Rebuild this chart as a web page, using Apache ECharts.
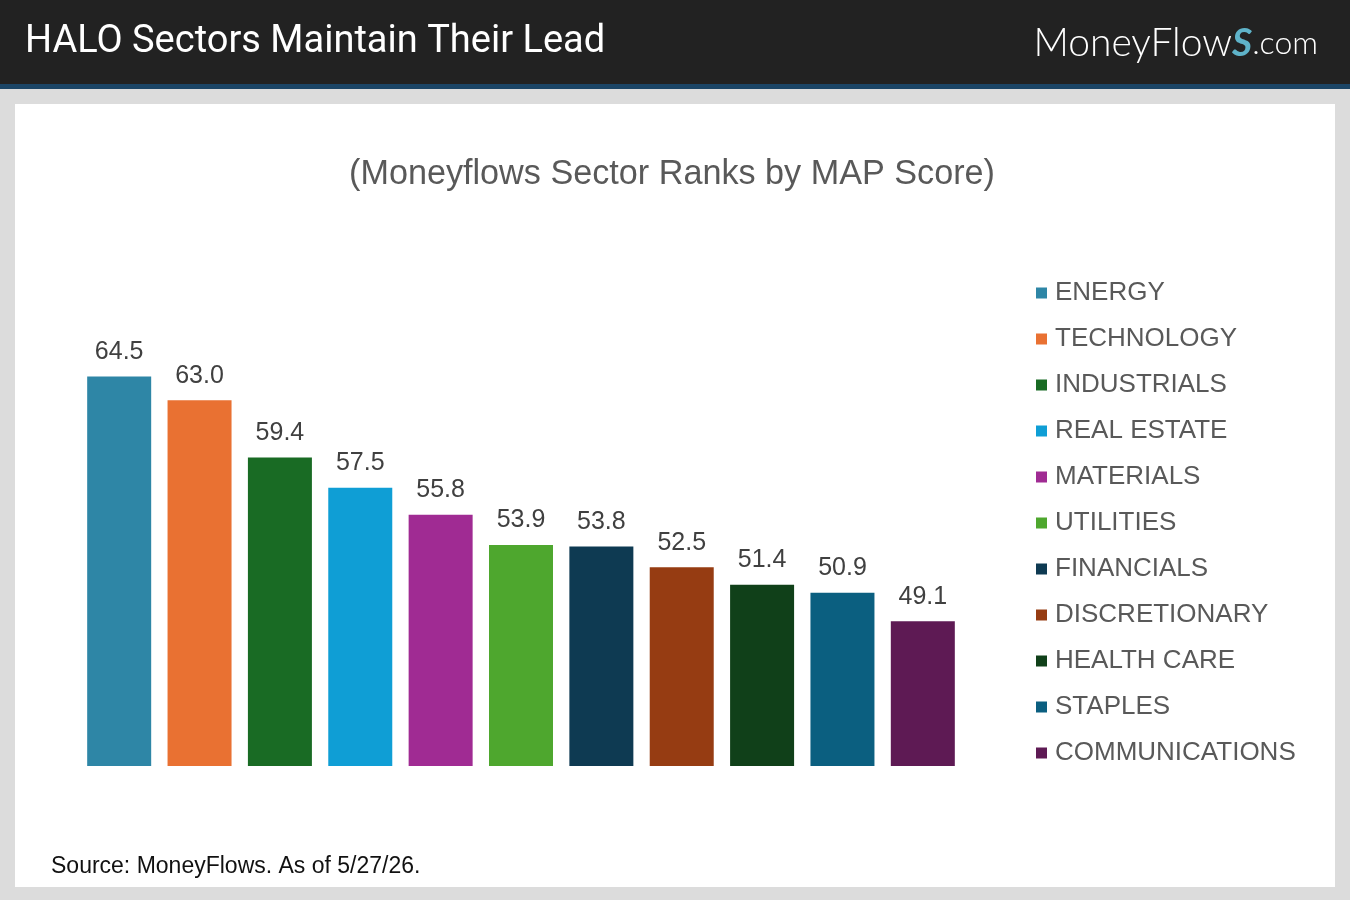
<!DOCTYPE html>
<html>
<head>
<meta charset="utf-8">
<title>HALO Sectors Maintain Their Lead</title>
<script src="https://cdn.jsdelivr.net/npm/echarts@6/dist/echarts.min.js"></script>
<style>
  html, body { margin: 0; padding: 0; background: #dcdcdc; }
  #chart { width: 1350px; height: 900px; }
</style>
</head>
<body>
<div id="chart"></div>
<script>
// sector ranks by MAP score
const sectors = ['ENERGY', 'TECHNOLOGY', 'INDUSTRIALS', 'REAL ESTATE', 'MATERIALS', 'UTILITIES',
  'FINANCIALS', 'DISCRETIONARY', 'HEALTH CARE', 'STAPLES', 'COMMUNICATIONS'];
const scores = [64.5, 63.0, 59.4, 57.5, 55.8, 53.9, 53.8, 52.5, 51.4, 50.9, 49.1];
const sectorColors = ['#2e86a6', '#e97132', '#196b24', '#0f9ed5', '#a02b93', '#4ea72e',
  '#0e3a52', '#963c12', '#104019', '#0b5f80', '#5e1a54'];

const chart = echarts.init(document.getElementById('chart'));

// one series per sector so each gets its own legend entry
const series = sectors.map((name, i) => ({
  name: name,
  type: 'bar',
  barWidth: 64,
  barGap: '-100%',
  itemStyle: { color: sectorColors[i] },
  label: {
    show: true,
    position: 'top',
    distance: 12,
    color: '#404040',
    fontSize: 25,
    fontFamily: 'Liberation Sans, Arial, sans-serif',
    formatter: p => p.value.toFixed(1)
  },
  data: scores.map((v, j) => (j === i ? v : '-'))
}));

const option = {
  backgroundColor: '#dcdcdc',
  animation: false,
  graphic: [
    { type: 'rect', z: -10, shape: { x: 0, y: 0, width: 1350, height: 85 }, style: { fill: '#222222' } },
    { type: 'rect', z: -10, shape: { x: 0, y: 84, width: 1350, height: 5 }, style: { fill: '#1b4566' } },
    { type: 'rect', z: -10, shape: { x: 15, y: 104, width: 1320, height: 783 }, style: { fill: '#ffffff' } },
    {
      type: 'text', left: 25, top: 23,
      style: { text: 'HALO Sectors Maintain Their Lead', fill: '#ffffff', fontSize: 38, fontFamily: 'Roboto, sans-serif' }
    },
    {
      type: 'text', right: 32, top: 24,
      style: {
        text: '{a|MoneyFlow}{s|S}{c|.com}',
        rich: {
          a: { fill: '#ffffff', fontSize: 39, fontFamily: 'Lato, sans-serif', fontWeight: 300 },
          s: { fill: '#5fb3c9', fontSize: 39, fontFamily: 'Lato, sans-serif', fontWeight: 'bold', fontStyle: 'italic' },
          c: { fill: '#ffffff', fontSize: 32, fontFamily: 'Lato, sans-serif', fontWeight: 300 }
        }
      }
    },
    {
      type: 'text', left: 51, top: 855,
      style: { text: 'Source: MoneyFlows. As of 5/27/26.', fill: '#111111', fontSize: 23, fontFamily: 'Liberation Sans, Arial, sans-serif' }
    }
  ],
  title: {
    text: '(Moneyflows Sector Ranks by MAP Score)',
    left: 667,
    textAlign: 'center',
    top: 153,
    textStyle: { color: '#595959', fontSize: 34.2, fontWeight: 'normal', fontFamily: 'Liberation Sans, Arial, sans-serif' }
  },
  legend: {
    orient: 'vertical',
    left: 1036,
    top: 280,
    padding: 0,
    itemWidth: 11,
    itemHeight: 11,
    itemGap: 20,
    icon: 'rect',
    textStyle: { color: '#595959', fontSize: 26, fontFamily: 'Liberation Sans, Arial, sans-serif', padding: [0, 0, 0, 3] },
    data: sectors
  },
  grid: { left: 79, width: 884, top: 289, bottom: 134 },
  xAxis: {
    type: 'category',
    data: sectors,
    show: false
  },
  yAxis: {
    type: 'value',
    min: 40,
    max: 70,
    show: false,
    splitLine: { show: false }
  },
  series: series
};

chart.setOption(option);
</script>
</body>
</html>
